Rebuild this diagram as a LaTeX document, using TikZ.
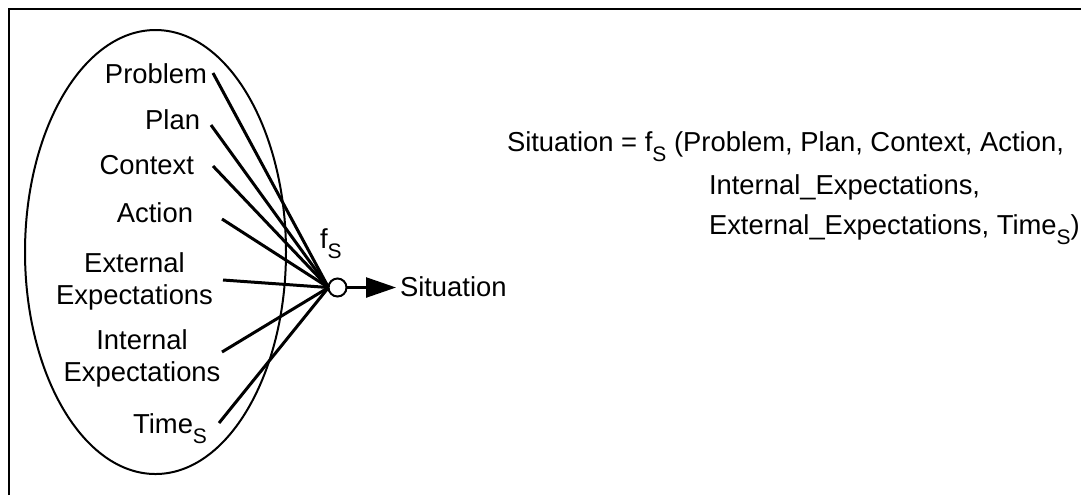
\documentclass[tikz,border=0pt]{standalone}
\usepackage{fontspec}
\setmainfont{Liberation Sans}
\usetikzlibrary{arrows.meta,positioning}
\tikzset{
  lbl/.style = {inner sep=0pt, outer sep=0pt,
                font=\fontsize{13.7pt}{16pt}\selectfont},
  spoke/.style = {line width=1.5pt},
  fcirc/.style = {circle, draw, line width=1pt, minimum size=#1,
                  inner sep=0pt, outer sep=0pt},
  fcirc/.default = 9pt
}
\newcommand\subS{\raisebox{-5pt}{\fontsize{10.5pt}{10.5pt}\selectfont S}}

\begin{document}
\begin{tikzpicture}[x=0.5pt,y=-0.5pt]
	\def \lw{1pt}
	\useasboundingbox (0,0) rectangle (1081,495);

	% Frame
	\draw[line width=1.25pt] (9,495) -- (9,9) -- (1081,9);

	% Ellipse
	\draw[line width=\lw] (155.5,252) ellipse [x radius=130.5, y radius=222];

	% Function f_S and output
	\node[fcirc] (fs) at (337.5,287.5) {};
	\node[lbl, anchor=base west] (fslbl) at (320,248) {f\subS};
	\node[lbl, anchor=base west] (sit) at (400,296) {Situation};
	\draw[line width=1.25pt, -{Triangle[length=15pt, width=10pt]}, shorten >=2pt]
		(fs.east) -- (fs.east -| sit.west);

	% Inputs
	\node[lbl, anchor=base east] (problem) at (207,83) {Problem};
	\node[lbl, anchor=base east] (plan) at (200,129) {Plan};
	\node[lbl, anchor=base east] (context) at (194,174) {Context};
	\node[lbl, anchor=base east] (action) at (193,222) {Action};
	\node[lbl, align=center] (external) at (134.5,281.5) {External\\Expectations};
	\node[lbl, align=center] (internal) at (142,358.5) {Internal\\Expectations};
	\node[lbl, anchor=base east] (time) at (207,433) {Time\subS};

	% Spokes
	\coordinate (problem-in) at (213,73);
	\coordinate (plan-in) at (211,125);
	\coordinate (context-in) at (213,166);
	\coordinate (action-in) at (222,219);
	\coordinate (external-in) at (223,280);
	\coordinate (internal-in) at (222,352);
	\coordinate (time-in) at (219,423);
	\foreach \c in {problem-in, plan-in, context-in, action-in,
	                external-in, internal-in, time-in}
		\draw[spoke] (\c) -- (fs.west);

	% Equation
	\node[lbl, anchor=base west] (eq1) at (507,151)
		{Situation = f\subS{} (Problem, Plan, Context, Action,};
	\node[lbl, anchor=base west] (eq2) at (709,194) {Internal\_Expectations,};
	\node[lbl, anchor=base west] (eq3) at (709,234) {External\_Expectations, Time\subS)};
\end{tikzpicture}
\end{document}
